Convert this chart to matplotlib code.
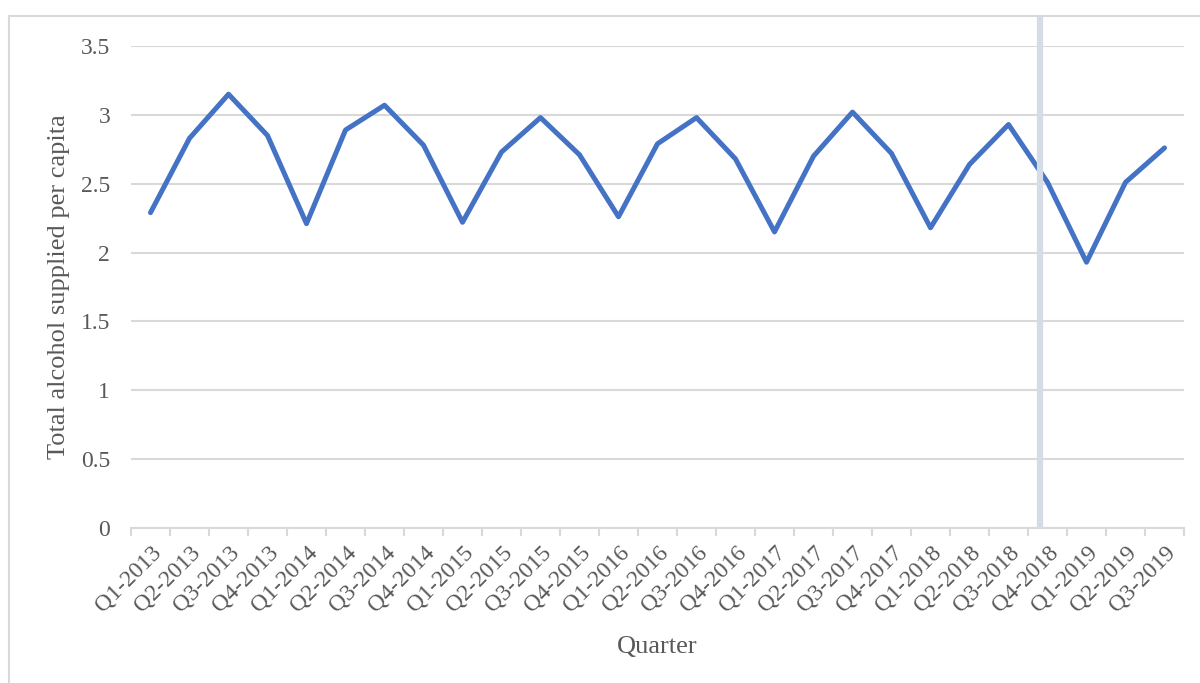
import matplotlib
matplotlib.use("Agg")
import matplotlib.pyplot as plt
from matplotlib.patches import Rectangle

quarters = ["Q1-2013", "Q2-2013", "Q3-2013", "Q4-2013",
            "Q1-2014", "Q2-2014", "Q3-2014", "Q4-2014",
            "Q1-2015", "Q2-2015", "Q3-2015", "Q4-2015",
            "Q1-2016", "Q2-2016", "Q3-2016", "Q4-2016",
            "Q1-2017", "Q2-2017", "Q3-2017", "Q4-2017",
            "Q1-2018", "Q2-2018", "Q3-2018", "Q4-2018",
            "Q1-2019", "Q2-2019", "Q3-2019"]
alcohol = [2.29, 2.83, 3.15, 2.85,
           2.21, 2.89, 3.07, 2.78,
           2.22, 2.73, 2.98, 2.71,
           2.26, 2.79, 2.98, 2.68,
           2.15, 2.70, 3.02, 2.72,
           2.18, 2.64, 2.93, 2.51,
           1.93, 2.51, 2.76]
marker_pos = 22.8  # vertical marker between Q3-2018 and Q4-2018

grey = "#595959"
grid = "#D9D9D9"
plt.rcParams["font.family"] = ["Liberation Serif", "DejaVu Serif"]

fig = plt.figure(figsize=(12, 6.83), dpi=100)
ax = fig.add_axes([131 / 1200, 1 - 528 / 683, (1184 - 131) / 1200, (528 - 46) / 683])

# outer chart frame
fig.patches.append(Rectangle((9 / 1200, -0.1), 1.2, 1 - 16 / 683 + 0.1,
                             transform=fig.transFigure, fill=False,
                             edgecolor=grid, linewidth=1.5))

x = list(range(len(quarters)))
ax.plot(x, alcohol, color="#4472C4", linewidth=3.6, solid_joinstyle="round",
        solid_capstyle="round", zorder=3)

ax.axvline(marker_pos, ymin=0, ymax=(528 - 17) / (528 - 46), color="#D6DCE5",
           linewidth=4.5, solid_capstyle="butt", clip_on=False, zorder=4)

ax.set_xlim(-0.5, len(quarters) - 0.5)
ax.set_ylim(0, 3.5)
ax.set_yticks([0, 0.5, 1, 1.5, 2, 2.5, 3, 3.5])
ax.set_yticklabels(["0", "0.5", "1", "1.5", "2", "2.5", "3", "3.5"])
ax.yaxis.grid(True, color=grid, linewidth=1.5)
ax.set_axisbelow(True)

ax.set_xticks(x)
ax.set_xticklabels(quarters, rotation=45, ha="right", va="top",
                   rotation_mode="anchor")
ax.set_xticks([i - 0.5 for i in range(len(quarters) + 1)], minor=True)
ax.tick_params(axis="x", which="major", length=0, pad=10, labelsize=17,
               labelcolor=grey)
ax.tick_params(axis="x", which="minor", length=6, width=1.5, color=grid)
ax.tick_params(axis="y", length=0, pad=15, labelsize=17, labelcolor=grey)

for s in ["top", "right", "left"]:
    ax.spines[s].set_visible(False)
ax.spines["bottom"].set_color(grid)
ax.spines["bottom"].set_linewidth(1.5)

ax.set_ylabel("Total alcohol supplied per capita", fontsize=19, color=grey,
              labelpad=8)
ax.set_xlabel("Quarter", fontsize=19, color=grey, labelpad=14)

fig.savefig("out.png", dpi=100)
